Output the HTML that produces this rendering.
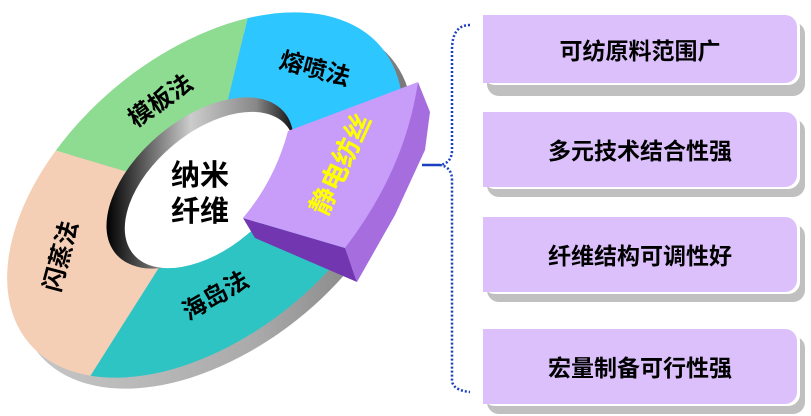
<!DOCTYPE html>
<html><head><meta charset="utf-8"><style>
html,body{margin:0;padding:0;background:#fff;width:811px;height:416px;overflow:hidden}
svg{display:block}
text{font-family:"Liberation Sans","Noto Sans CJK SC",sans-serif;font-weight:bold}
</style></head><body>
<svg width="811" height="416" viewBox="0 0 811 416" xmlns="http://www.w3.org/2000/svg" overflow="hidden">
<defs>
<clipPath id="outer"><path d="M381.2,47.1 A230 140 -40 1 0 28.8,342.9 A230 140 -40 1 0 381.2,47.1 Z"/></clipPath>
<linearGradient id="side" x1="0" y1="0" x2="1" y2="0"><stop offset="0" stop-color="#c8c8c8"/><stop offset="0.6" stop-color="#aaa"/><stop offset="1" stop-color="#777"/></linearGradient>
<linearGradient id="rim" x1="0" y1="0" x2="1" y2="0"><stop offset="0" stop-color="#000"/><stop offset="0.45" stop-color="#ccc"/><stop offset="0.8" stop-color="#888"/><stop offset="1" stop-color="#111"/></linearGradient>
</defs>
<path d="M391.2,58.1 A230 140 -40 1 0 38.8,353.9 A230 140 -40 1 0 391.2,58.1 Z" fill="url(#side)"/>
<g clip-path="url(#outer)">
<polygon points="205,195 252,0 0,0 0,134" fill="#8edb92"/>
<polygon points="205,195 0,134 0,416 65,416" fill="#f5cfb5"/>
<polygon points="205,195 65,416 450,416 330,270" fill="#2ec4c4"/>
<polygon points="205,195 252,0 450,0 450,150" fill="#2ec6ff"/>
<polygon points="205,195 450,150 450,416 330,270" fill="#2ec4c4"/>
</g>
<path d="M284.3,112.3 A110 63 -40 1 0 115.7,253.7 A110 63 -40 1 0 284.3,112.3 Z" fill="url(#rim)"/>
<path d="M286.6,125.7 A100 58 -40 1 0 133.4,254.3 A100 58 -40 1 0 286.6,125.7 Z" fill="#fff"/>
<polygon points="243,218 345,248 357,282 255,238" fill="#7236b0"/>
<polygon points="418,82 430,112 425,150 395,215 357,282 345,248 385,180 410,120" fill="#a66ddf"/>
<path d="M288,131 L418,82 Q405,170 345,248 L243,218 Q275,180 288,131 Z" fill="#c89cf9"/>
<text x="315" y="77" font-size="24" text-anchor="middle" transform="rotate(15 315 68)">熔喷法</text>
<text x="160" y="109" font-size="24" text-anchor="middle" transform="rotate(-35 160 100)">模板法</text>
<text x="60" y="265" font-size="24" text-anchor="middle" transform="rotate(-75 60 256)">闪蒸法</text>
<text x="215" y="304" font-size="24" text-anchor="middle" transform="rotate(-30 215 295)">海岛法</text>
<text x="340" y="174" font-size="27" fill="#ffff00" text-anchor="middle" transform="rotate(-65 340 164)">静电纺丝</text>
<text x="200" y="185" font-size="29" text-anchor="middle">纳米</text>
<text x="200" y="221" font-size="29" text-anchor="middle">纤维</text>
<line x1="422" y1="165" x2="440" y2="165" stroke="#1a3fc0" stroke-width="2.5"/>
<path d="M470,25 Q452,25 452,50 L452,150 Q452,163 440,165 Q452,167 452,180 L452,380 Q452,390 470,392" fill="none" stroke="#1a3fc0" stroke-width="2.5" stroke-dasharray="2,2"/>
<g>
<rect x="487" y="22" width="318" height="74" rx="12" fill="#c0c0c0"/>
<rect x="483" y="15" width="317" height="70" rx="12" fill="#fff"/>
<rect x="483" y="15" width="314" height="68" rx="12" fill="#dcc0fb"/>
<rect x="483" y="15" width="20" height="68" fill="#dcc0fb"/>
<text x="640" y="59" font-size="23" text-anchor="middle">可纺原料范围广</text>

<rect x="487" y="119" width="318" height="78" rx="12" fill="#c0c0c0"/>
<rect x="483" y="112" width="317" height="77" rx="12" fill="#fff"/>
<rect x="483" y="112" width="314" height="75" rx="12" fill="#dcc0fb"/>
<rect x="483" y="112" width="20" height="75" fill="#dcc0fb"/>
<text x="640" y="159" font-size="23" text-anchor="middle">多元技术结合性强</text>

<rect x="487" y="224" width="318" height="78" rx="12" fill="#c0c0c0"/>
<rect x="483" y="217" width="317" height="77" rx="12" fill="#fff"/>
<rect x="483" y="217" width="314" height="75" rx="12" fill="#dcc0fb"/>
<rect x="483" y="217" width="20" height="75" fill="#dcc0fb"/>
<text x="640" y="264" font-size="23" text-anchor="middle">纤维结构可调性好</text>

<rect x="487" y="336" width="318" height="78" rx="12" fill="#c0c0c0"/>
<rect x="483" y="329" width="317" height="77" rx="12" fill="#fff"/>
<rect x="483" y="329" width="314" height="75" rx="12" fill="#dcc0fb"/>
<rect x="483" y="329" width="20" height="75" fill="#dcc0fb"/>
<text x="640" y="376" font-size="23" text-anchor="middle">宏量制备可行性强</text>
</g>
</svg>
</body></html>
